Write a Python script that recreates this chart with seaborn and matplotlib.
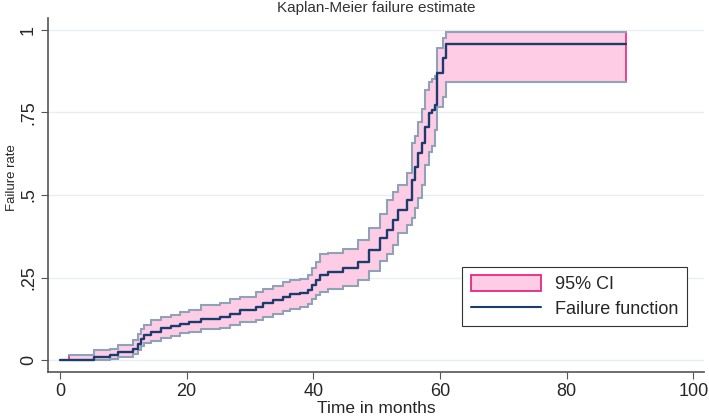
import numpy as np
import pandas as pd
import seaborn as sns
import matplotlib
matplotlib.use("Agg")
import matplotlib.pyplot as plt
from matplotlib.patches import Patch
from matplotlib.lines import Line2D

# step times (months) and KM failure estimate with 95% CI
times = [0, 1.4, 5.3, 7.9, 9.2, 11.5, 12.3, 12.8, 13.3, 14.4, 16.0, 17.5, 19.0,
         20.3, 22.2, 25.3, 26.9, 28.4, 31.0, 32.0, 33.7, 35.2, 36.3, 37.9, 39.2,
         39.8, 40.4, 41.0, 42.3, 44.7, 47.0, 48.8, 50.5, 51.6, 52.6, 53.4, 54.8,
         55.6, 56.1, 56.6, 57.2, 57.7, 58.2, 58.7, 59.2, 59.5, 60.5, 61.0, 89.4]
failure = [0, 0, 0.01, 0.015, 0.025, 0.035, 0.05, 0.065, 0.076, 0.086, 0.096,
           0.104, 0.111, 0.116, 0.126, 0.131, 0.141, 0.153, 0.162, 0.172, 0.182,
           0.192, 0.199, 0.204, 0.212, 0.228, 0.242, 0.258, 0.268, 0.278, 0.298,
           0.335, 0.369, 0.395, 0.424, 0.455, 0.485, 0.545, 0.586, 0.626, 0.657,
           0.707, 0.747, 0.758, 0.773, 0.869, 0.914, 0.957, 0.957]
upper = [0, 0.016, 0.03, 0.035, 0.045, 0.06, 0.08, 0.095, 0.106, 0.121, 0.131,
         0.136, 0.146, 0.153, 0.167, 0.172, 0.184, 0.192, 0.207, 0.215, 0.225,
         0.238, 0.242, 0.247, 0.258, 0.28, 0.298, 0.323, 0.325, 0.338, 0.364,
         0.40, 0.444, 0.485, 0.51, 0.53, 0.566, 0.657, 0.68, 0.72, 0.76, 0.818,
         0.843, 0.85, 0.86, 0.944, 0.975, 0.995, 0.995]
lower = [0, 0, 0.002, 0.005, 0.01, 0.018, 0.03, 0.042, 0.051, 0.059, 0.066,
         0.073, 0.081, 0.086, 0.093, 0.098, 0.106, 0.116, 0.123, 0.131, 0.139,
         0.148, 0.156, 0.162, 0.17, 0.185, 0.197, 0.207, 0.217, 0.225, 0.242,
         0.27, 0.30, 0.32, 0.35, 0.384, 0.41, 0.43, 0.46, 0.49, 0.53, 0.59, 0.63,
         0.65, 0.697, 0.768, 0.798, 0.843, 0.843]

x_ticks = [0, 20, 40, 60, 80, 100]
y_ticks = [0, 0.25, 0.5, 0.75, 1]
y_labels = ["0", ".25", ".5", ".75", "1"]

df = pd.DataFrame({"time": times, "failure": failure, "lower": lower, "upper": upper})

sns.set_style("white")
plt.rcParams["font.family"] = ["Liberation Sans", "DejaVu Sans"]

pink_fill = "#ffcce6"
magenta = "#e8287e"
edge_blue = "#8ea3b8"
navy = "#1a3d6d"

fig = plt.figure(figsize=(7.09, 4.19), dpi=100)
ax = fig.add_axes([0.0677, 0.112, 0.9253, 0.845])

# CI band (start where the CI starts)
band = df[df["time"] >= 1.4]
ax.fill_between(band["time"], band["lower"], band["upper"], step="post",
                facecolor=pink_fill, edgecolor=magenta, linewidth=1.2, zorder=2)
sns.lineplot(data=band, x="time", y="upper", drawstyle="steps-post",
             color=edge_blue, linewidth=1.5, ax=ax, zorder=3)
sns.lineplot(data=band, x="time", y="lower", drawstyle="steps-post",
             color=edge_blue, linewidth=1.5, ax=ax, zorder=3)
sns.lineplot(data=df, x="time", y="failure", drawstyle="steps-post",
             color=navy, linewidth=1.7, ax=ax, zorder=4)

ax.set_xlim(-1.9, 101.7)
ax.set_ylim(-0.036, 1.036)
ax.set_xticks(x_ticks)
ax.set_yticks(y_ticks)
ax.set_yticklabels(y_labels, rotation=90, va="center")
ax.tick_params(axis="both", labelsize=13, length=5, width=0.8, color="#555555",
               direction="out", bottom=True, left=True, pad=3)
ax.grid(axis="y", color="#e6eff3", linewidth=1.0, zorder=0)
ax.set_axisbelow(True)

for side in ["top", "right"]:
    ax.spines[side].set_visible(False)
for side in ["left", "bottom"]:
    ax.spines[side].set_color("#555555")
    ax.spines[side].set_linewidth(1.2)

ax.set_xlabel("Time in months", fontsize=12.5)
ax.xaxis.set_label_coords(0.5, -0.083)
ax.set_ylabel("Failure rate", fontsize=9.5)
ax.yaxis.set_label_coords(-0.046, 0.55)
ax.set_title("Kaplan-Meier failure estimate", fontsize=11, color="#333333", pad=4)

handles = [Patch(facecolor=pink_fill, edgecolor=magenta, linewidth=1.3),
           Line2D([0], [0], color=navy, linewidth=1.5)]
leg = ax.legend(handles, ["95% CI", "Failure function"], loc="lower right",
                bbox_to_anchor=(0.974, 0.13), borderaxespad=0, fontsize=13,
                frameon=True, fancybox=False, edgecolor="#333333", framealpha=1,
                handlelength=3.9, handleheight=1.0, handletextpad=0.8,
                borderpad=0.45, labelspacing=0.35)
leg.get_frame().set_linewidth(0.8)

fig.savefig("out.png", dpi=100)
